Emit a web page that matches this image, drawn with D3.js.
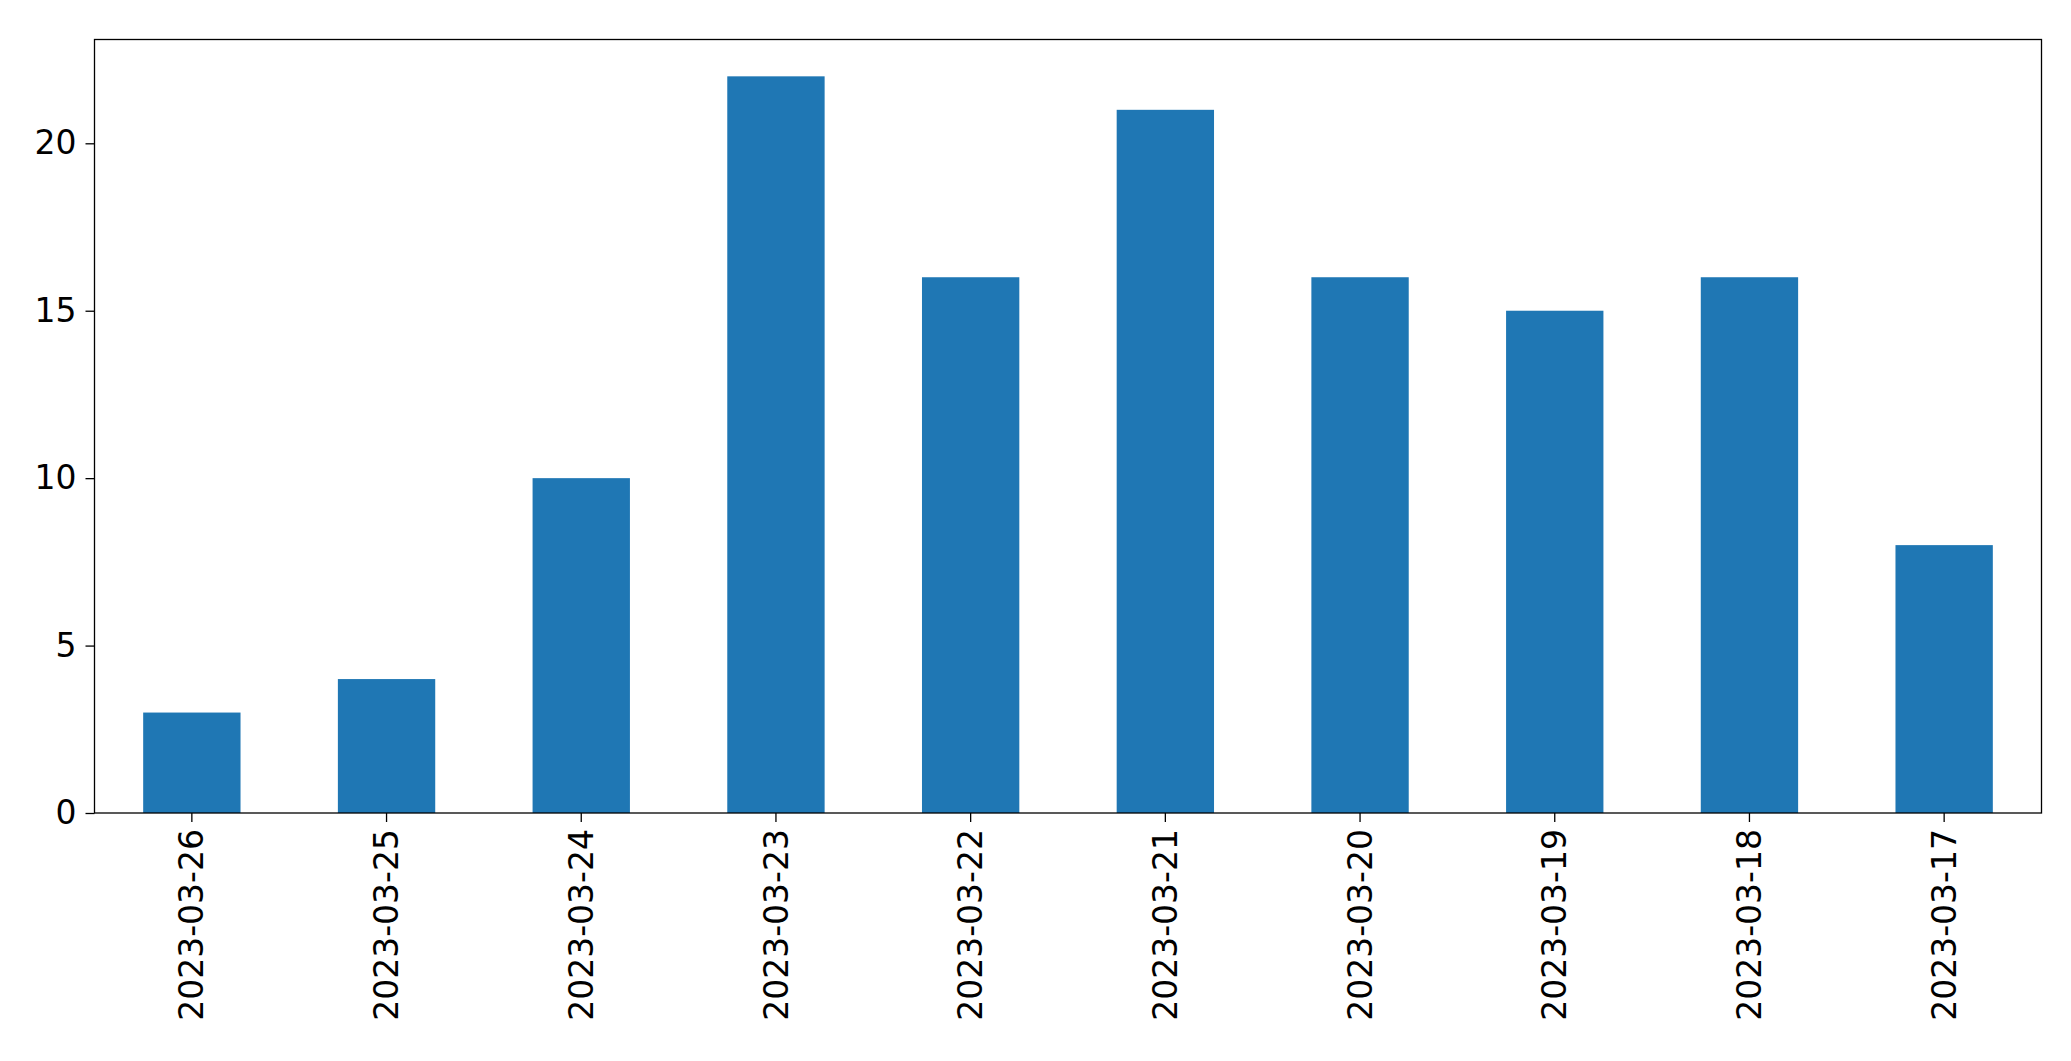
<!DOCTYPE html>
<html><head><meta charset="utf-8">
<script src="https://cdn.jsdelivr.net/npm/d3@7"></script>
<style>body{margin:0;background:#fff}text{font-family:"DejaVu Sans";fill:#000}</style>
</head><body><svg id="svg"></svg>
<script>
const WIDTH = 2071, HEIGHT = 1061;
const dates = ['2023-03-26','2023-03-25','2023-03-24','2023-03-23','2023-03-22','2023-03-21','2023-03-20','2023-03-19','2023-03-18','2023-03-17'];
const counts = [3,4,10,22,16,21,16,15,16,8];
const yTicks = [0,5,10,15,20];

const m = {left:94.5, right:2041.5, top:39.5, bottom:813};
const svg = d3.select('#svg').attr('width',WIDTH).attr('height',HEIGHT);
const x = d3.scaleBand().domain(dates).range([m.left,m.right]).paddingInner(0.5).paddingOuter(0.25);
const y = d3.scaleLinear().domain([0, d3.max(counts)*1.05]).range([m.bottom,m.top]);

svg.selectAll('rect.bar').data(dates).join('rect').attr('class','bar')
  .attr('x',d=>x(d)).attr('width',x.bandwidth())
  .attr('y',(d,i)=>y(counts[i])).attr('height',(d,i)=>m.bottom-y(counts[i]))
  .attr('fill','#1f77b4');

const ya = svg.append('g').attr('transform','translate('+m.left+',0)')
  .call(d3.axisLeft(y).tickValues(yTicks).tickSize(9).tickPadding(9).tickFormat(d3.format('d')));
ya.selectAll('text').style('font-size','33px');
const xa = svg.append('g').attr('transform','translate(0,'+m.bottom+')')
  .call(d3.axisBottom(x).tickSize(9).tickPadding(0));
xa.selectAll('text').style('font-size','33px')
  .attr('transform','rotate(-90)').attr('text-anchor','end')
  .attr('x',-16).attr('y',0).attr('dy','0.35em');
svg.selectAll('.domain').remove();
svg.selectAll('.tick line').attr('stroke','#000').attr('stroke-width',1.3);
svg.append('rect').attr('x',m.left).attr('y',m.top).attr('width',m.right-m.left).attr('height',m.bottom-m.top)
  .attr('fill','none').attr('stroke','#000').attr('stroke-width',1.3);
</script></body></html>
